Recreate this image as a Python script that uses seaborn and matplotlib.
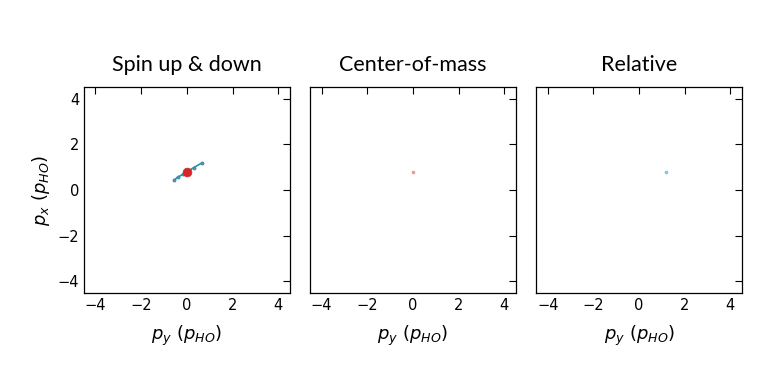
"""Momentum-space snapshot: spin up & down, center-of-mass, relative."""
import matplotlib
matplotlib.use("Agg")
import matplotlib.pyplot as plt
import seaborn as sns
import pandas as pd

titles = ["Spin up & down", "Center-of-mass", "Relative"]

# spin up & down trajectory (p_y, p_x)
traj_py = [-0.55, -0.38, -0.15, 0.0, 0.3, 0.65]
traj_px = [0.44, 0.57, 0.70, 0.79, 0.98, 1.18]
# current particle position
dot_py = [0.0]
dot_px = [0.79]
# center-of-mass point
com_py = [0.0]
com_px = [0.79]
# relative point
rel_py = [1.18]
rel_px = [0.79]

ticks = [-4, -2, 0, 2, 4]

sns.set_style("white")
plt.rcParams["font.family"] = ["DejaVu Sans"]
plt.rcParams["mathtext.fontset"] = "dejavusans"
plt.rcParams["text.color"] = "black"
plt.rcParams["axes.labelcolor"] = "black"
plt.rcParams["xtick.color"] = "black"
plt.rcParams["ytick.color"] = "black"

fig, axes = plt.subplots(1, 3, figsize=(7.64, 3.8), dpi=100)
fig.subplots_adjust(left=0.11, right=0.971, top=0.771, bottom=0.229, wspace=0.1)

traj = pd.DataFrame({"py": traj_py, "px": traj_px})
sns.lineplot(data=traj, x="py", y="px", sort=False, ax=axes[0],
             color="#2a8fb0", lw=1.2, marker="o", markersize=2.0,
             markeredgecolor="#2a8fb0", markerfacecolor="#888888")
sns.scatterplot(x=dot_py, y=dot_px, ax=axes[0], color="#d62728", s=40,
                edgecolor="#d62728", zorder=5)
sns.scatterplot(x=com_py, y=com_px, ax=axes[1], color="#f49aa0", s=5,
                edgecolor="#ee7f88", linewidth=0.3)
sns.scatterplot(x=rel_py, y=rel_px, ax=axes[2], color="#8cc8ec", s=5,
                edgecolor="#5aaee0", linewidth=0.3)

for i, ax in enumerate(axes):
    ax.set_xlim(-4.5, 4.5)
    ax.set_ylim(-4.5, 4.5)
    ax.set_aspect("equal")
    ax.set_xticks(ticks)
    ax.set_yticks(ticks)
    ax.tick_params(direction="in", top=True, right=True, length=5,
                   width=0.8, labelsize=10.5, color="black", labelcolor="black")
    for s in ax.spines.values():
        s.set_color("black")
        s.set_linewidth(0.9)
    ax.set_title(titles[i], fontsize=15.5, family=["Lato", "DejaVu Sans"],
                 pad=12, color="black")
    ax.set_xlabel(r"$p_y\ (p_{HO})$", fontsize=13, labelpad=8)
    if i == 0:
        ax.set_ylabel(r"$p_x\ (p_{HO})$", fontsize=13, labelpad=4)
    else:
        ax.set_ylabel("")
        ax.set_yticklabels([])

fig.savefig("out.png", dpi=100)
